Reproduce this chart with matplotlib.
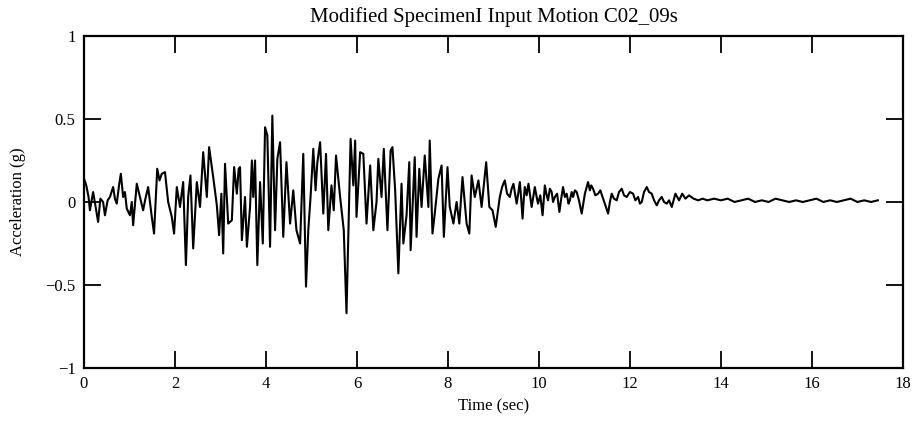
import numpy as np
import matplotlib
matplotlib.use("Agg")
import matplotlib.pyplot as plt

# acceleration record (time in sec, acceleration in g)
time_s = [
    0.00, 0.05, 0.10, 0.13, 0.20, 0.25, 0.31, 0.36, 0.42, 0.46, 0.52, 0.57,
    0.64, 0.68, 0.72, 0.77, 0.81, 0.86, 0.90, 0.94, 1.01, 1.05, 1.08, 1.16,
    1.23, 1.30, 1.35, 1.41, 1.49, 1.54, 1.61, 1.66, 1.71, 1.78, 1.85, 1.93,
    1.98, 2.04, 2.11, 2.18, 2.24, 2.29, 2.34, 2.40, 2.48, 2.55, 2.62, 2.70,
    2.75, 2.84, 2.92, 2.97, 3.02, 3.06, 3.10, 3.17, 3.25, 3.30, 3.36, 3.40,
    3.43, 3.47, 3.54, 3.58, 3.65, 3.69, 3.72, 3.76, 3.81, 3.87, 3.93, 3.98,
    4.03, 4.09, 4.14, 4.20, 4.25, 4.31, 4.38, 4.45, 4.53, 4.60, 4.67, 4.75,
    4.82, 4.88, 4.93, 4.98, 5.04, 5.09, 5.13, 5.19, 5.26, 5.32, 5.37, 5.44,
    5.49, 5.54, 5.63, 5.71, 5.77, 5.86, 5.92, 5.96, 5.99, 6.07, 6.14, 6.21,
    6.29, 6.36, 6.43, 6.47, 6.54, 6.59, 6.67, 6.74, 6.78, 6.84, 6.91, 6.98,
    7.02, 7.09, 7.15, 7.18, 7.27, 7.31, 7.37, 7.42, 7.49, 7.57, 7.60, 7.66,
    7.71, 7.79, 7.86, 7.91, 7.99, 8.04, 8.12, 8.19, 8.25, 8.32, 8.41, 8.47,
    8.52, 8.59, 8.67, 8.74, 8.84, 8.91, 8.98, 9.05,
    9.10, 9.14, 9.19, 9.25, 9.30, 9.36, 9.40, 9.44, 9.48, 9.51, 9.55, 9.58,
    9.61, 9.64, 9.67, 9.69, 9.73, 9.77, 9.80, 9.84, 9.88, 9.91, 9.95, 9.98,
    10.03, 10.08, 10.13, 10.17, 10.20, 10.24, 10.28, 10.31, 10.35, 10.40, 10.45, 10.49,
    10.53, 10.57, 10.61, 10.65, 10.68, 10.72, 10.75, 10.79, 10.83, 10.88, 10.94, 10.98,
    11.01, 11.05, 11.08, 11.12, 11.15, 11.19, 11.24, 11.30, 11.35, 11.40, 11.46, 11.52,
    11.56, 11.60, 11.65, 11.71, 11.76, 11.82, 11.87, 11.93, 12.00, 12.07, 12.12, 12.18,
    12.22, 12.26, 12.31, 12.37, 12.42, 12.48, 12.53, 12.59, 12.64, 12.70, 12.75, 12.81,
    12.86, 12.92, 12.96, 13.00, 13.08, 13.15, 13.22, 13.30, 13.40, 13.50, 13.60, 13.70,
    13.85, 14.00, 14.15, 14.30, 14.45, 14.60, 14.75, 14.90, 15.05, 15.20, 15.35, 15.50,
    15.65, 15.80, 15.95, 16.10, 16.25, 16.40, 16.55, 16.70, 16.85, 17.00, 17.15, 17.30,
    17.45,
]
accel_g = [
    0.14, 0.10, 0.03, -0.05, 0.06, -0.02, -0.12, 0.02, 0.00, -0.08, 0.01, 0.03,
    0.09, 0.02, -0.01, 0.10, 0.17, 0.03, 0.06, -0.04, -0.08, 0.00, -0.14, 0.11,
    0.03, -0.05, 0.02, 0.09, -0.09, -0.19, 0.20, 0.13, 0.17, 0.18, 0.00, -0.09,
    -0.19, 0.09, -0.03, 0.12, -0.38, 0.03, 0.16, -0.28, 0.12, -0.03, 0.30, 0.03,
    0.33, 0.15, -0.02, -0.20, 0.05, -0.31, 0.23, -0.13, -0.11, 0.21, 0.05, 0.20,
    0.21, -0.23, 0.03, -0.27, -0.03, 0.25, 0.03, 0.25, -0.38, 0.12, -0.25, 0.45,
    0.40, -0.27, 0.52, -0.17, 0.26, 0.36, -0.21, 0.24, -0.13, 0.07, -0.17, -0.25,
    0.29, -0.51, -0.17, 0.03, 0.32, 0.07, 0.24, 0.36, -0.07, 0.29, -0.17, 0.10,
    -0.05, 0.28, 0.03, -0.17, -0.67, 0.38, 0.10, 0.37, -0.09, 0.30, 0.29, -0.13,
    0.22, -0.17, 0.00, 0.26, 0.03, 0.32, -0.17, 0.31, 0.33, 0.07, -0.43, 0.11,
    -0.25, -0.08, 0.24, -0.29, 0.27, -0.21, 0.20, -0.03, 0.28, -0.03, 0.37, -0.19,
    -0.07, 0.14, 0.22, -0.21, 0.21, -0.03, -0.13, 0.00, -0.13, 0.15, -0.13, -0.19,
    0.16, 0.03, 0.13, -0.03, 0.24, -0.03, -0.05, -0.15,
    -0.05, 0.03, 0.09, 0.13, 0.05, 0.03, 0.08, 0.11, 0.04, -0.01, 0.06, 0.12,
    0.02, -0.10, 0.03, 0.09, 0.04, 0.11, 0.05, -0.03, 0.04, 0.09, 0.03, -0.01,
    0.04, -0.08, 0.10, 0.04, 0.01, 0.08, 0.06, 0.00, 0.03, 0.05, -0.06, 0.02,
    0.09, 0.03, 0.05, -0.01, 0.01, 0.06, 0.03, 0.07, 0.06, 0.01, -0.07, 0.00,
    0.05, 0.09, 0.12, 0.07, 0.10, 0.08, 0.04, 0.05, 0.07, 0.03, -0.02, -0.07,
    0.00, 0.05, 0.02, 0.01, 0.06, 0.08, 0.04, 0.03, 0.06, 0.05, 0.01, 0.03,
    -0.01, 0.00, 0.06, 0.09, 0.06, 0.05, 0.01, -0.02, 0.01, 0.03, 0.00, -0.01,
    0.01, -0.03, 0.01, 0.05, 0.01, 0.05, 0.02, 0.04, 0.02, 0.01, 0.02, 0.01,
    0.02, 0.01, 0.02, 0.00, 0.01, 0.02, 0.00, 0.01, 0.00, 0.02, 0.01, 0.00,
    0.01, 0.00, 0.01, 0.02, 0.00, 0.01, 0.00, 0.01, 0.02, 0.00, 0.01, 0.00,
    0.01,
]

x_ticks = [0, 2, 4, 6, 8, 10, 12, 14, 16, 18]
y_ticks = [-1, -0.5, 0, 0.5, 1]

plt.rcParams['font.family'] = ['Liberation Serif', 'DejaVu Serif']

fig = plt.figure(figsize=(9.17, 4.23), dpi=100)
ax = fig.add_axes([0.0916, 0.130, 0.893, 0.785])

ax.plot(time_s, accel_g, color='black', linewidth=1.5)

ax.set_xlim(0, 18)
ax.set_ylim(-1, 1)
ax.set_xticks(x_ticks)
ax.set_yticks(y_ticks)
ax.set_yticklabels(['\u22121', '\u22120.5', '0', '0.5', '1'])
ax.tick_params(direction='in', length=12, width=1.3, top=True, right=True,
               labelsize=12, pad=6)
for s in ax.spines.values():
    s.set_linewidth(1.6)

ax.set_title('Modified SpecimenI Input Motion C02_09s', fontsize=15, pad=10)
ax.set_xlabel('Time (sec)', fontsize=12, labelpad=4)
ax.set_ylabel('Acceleration (g)', fontsize=12, labelpad=14)

fig.savefig('out.png', dpi=100)
